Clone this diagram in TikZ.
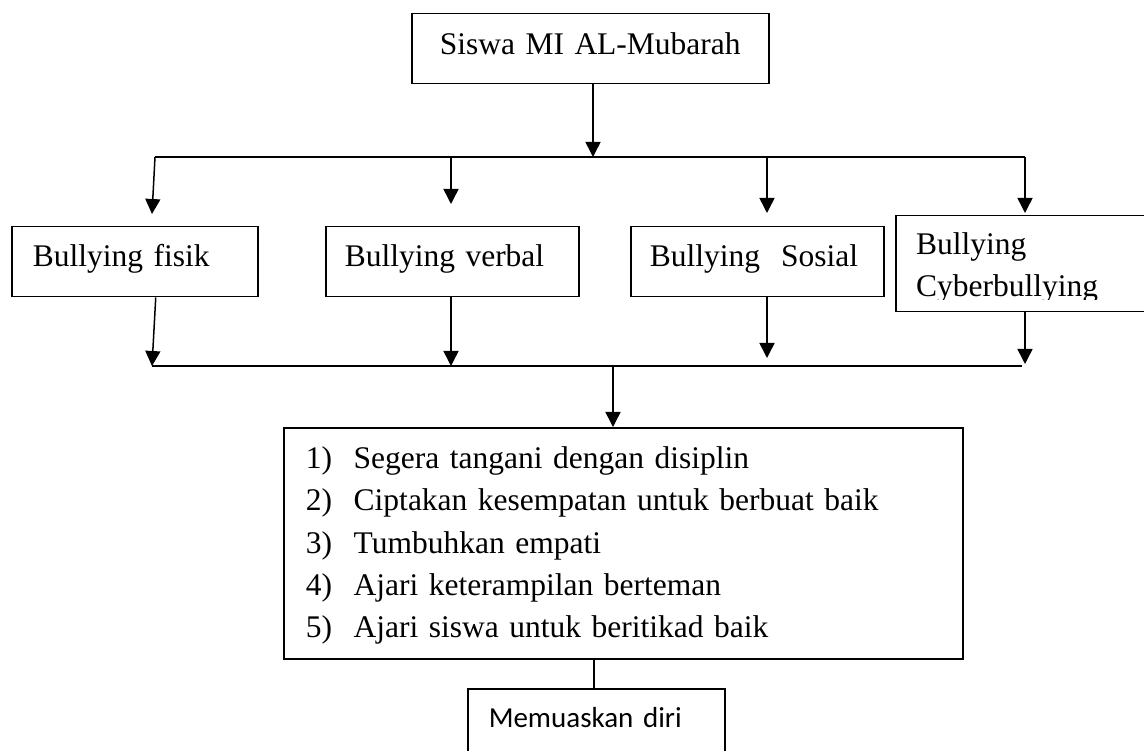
\documentclass[tikz,border=0pt]{standalone}
\usepackage{fontspec}
\setmainfont{Liberation Serif}
\newfontfamily\carlitofont{Carlito}
\usetikzlibrary{arrows.meta,calc}
\begin{document}
\begin{tikzpicture}[x=1pt,y=-1pt,
  box/.style={draw, line width=1.5pt, inner ysep=0pt, anchor=north west,
    font=\fontsize{31.5}{42.2}\selectfont, align=left},
  txt/.style={anchor=base west, inner sep=0pt, font=\fontsize{31.5}{42.2}\selectfont},
  arr/.style={line width=1.5pt, -{Triangle[width=15pt,length=15pt]}},
  bar/.style={line width=2pt},
  link/.style={line width=1.5pt}
]
\useasboundingbox (0,0) rectangle (1144,751);
\fill[white] (0,0) rectangle (1144,751);
\clip (0,0) rectangle (1144,751);

% boxes
\node[box, align=center, inner xsep=0pt, text width=357pt, text height=41pt, text depth=29pt] (top) at (411,13) {Siswa MI AL-Mubarah};
\node[box, inner xsep=21pt, text width=204pt, text height=40pt, text depth=30pt] (fisik) at (11,226) {Bullying fisik};
\node[box, inner xsep=19pt, text width=215pt, text height=40pt, text depth=30pt] (verbal) at (325,226) {Bullying verbal};
\node[box, inner xsep=19pt, text width=215pt, text height=40pt, text depth=30pt] (sosial) at (630,226) {Bullying\ \ Sosial};
\node[box, inner sep=0pt, minimum width=265pt, minimum height=96pt] (cyber) at (895,215) {};
\begin{scope}
  \clip (895,215) rectangle (1144,300);
  \node[txt] (cyb1) at (916,255) {Bullying};
  \node[txt] (cyb2) at (916,297) {Cyberbullying};
\end{scope}
\node[box, inner xsep=22pt, text width=635pt, text height=41pt, text depth=190pt] (main) at (283,427)
  {\makebox[48pt][l]{1)}Segera tangani dengan disiplin\\
   \makebox[48pt][l]{2)}Ciptakan kesempatan untuk berbuat baik\\
   \makebox[48pt][l]{3)}Tumbuhkan empati\\
   \makebox[48pt][l]{4)}Ajari keterampilan berteman\\
   \makebox[48pt][l]{5)}Ajari siswa untuk beritikad baik};
\node[box, font=\carlitofont\fontsize{29}{35}\selectfont, inner xsep=21pt, text width=215pt, text height=39pt, text depth=44pt] (mem) at (467,688) {Memuaskan diri};

% top distribution
\coordinate (t1) at (155,157);
\coordinate (t2) at (451,157);
\coordinate (t3) at (767,157);
\coordinate (t4) at (1025,157);
\coordinate (tc) at (593,157);
\coordinate (e1) at (152,214);
\coordinate (e2) at (451,204);
\coordinate (e3) at (767,213);
\coordinate (e4) at (1025,213);
\draw[arr] (top.south -| tc) -- (tc);
\draw[bar] (t1) -- (t4);
\draw[arr] (t1) -- (e1);
\draw[arr] (t2) -- (e2);
\draw[arr] (t3) -- (e3);
\draw[arr] (t4) -- (e4);

% bottom collection
\coordinate (b1) at (152,366);
\coordinate (b2) at (451,366);
\coordinate (b3) at (767,358);
\coordinate (b4) at (1025,364);
\coordinate (bR) at (1022,366);
\coordinate (bc) at (613,366);
\draw[arr] ([xshift=21pt]fisik.south) -- (b1);
\draw[arr] (verbal.south -| b2) -- (b2);
\draw[arr] (sosial.south -| b3) -- (b3);
\draw[arr] (cyber.south -| b4) -- (b4);
\draw[bar] (b1) -- (bR);
\draw[arr] (bc) -- (main.north -| bc);
\draw[link] ([xshift=-29.5pt]main.south) -- ([xshift=-29.5pt]main.south |- mem.north);
\end{tikzpicture}
\end{document}
